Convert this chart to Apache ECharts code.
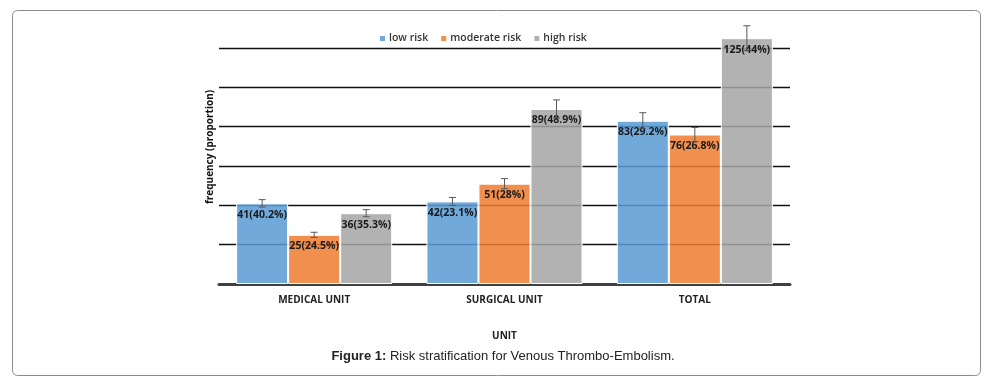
<!DOCTYPE html>
<html><head><meta charset="utf-8">
<script src="https://cdn.jsdelivr.net/npm/echarts@6/dist/echarts.min.js"></script>
<style>html,body{margin:0;padding:0;background:#fff}#c{width:991px;height:383px}</style>
</head><body><div id="c"></div>
<script>
const categories = ['MEDICAL UNIT', 'SURGICAL UNIT', 'TOTAL'];
const seriesNames = ['low risk', 'moderate risk', 'high risk'];
const lowRisk = [41, 42, 83];
const moderateRisk = [25, 51, 76];
const highRisk = [36, 89, 125];
const lowPct = ['40.2%', '23.1%', '29.2%'];
const moderatePct = ['24.5%', '28%', '26.8%'];
const highPct = ['35.3%', '48.9%', '44%'];
const lowErr = [1.9, 2.0, 4.1];
const moderateErr = [1.3, 2.6, 3.6];
const highErr = [1.8, 4.6, 6.3];

const values = [lowRisk, moderateRisk, highRisk];
const pcts = [lowPct, moderatePct, highPct];
const errs = [lowErr, moderateErr, highErr];
const colors = ['rgba(91,155,213,0.86)', 'rgba(237,125,49,0.86)', 'rgba(165,165,165,0.86)'];
const catGap = 0.18;

const chart = echarts.init(document.getElementById('c'));
const series = values.map((vals, si) => ({
  name: seriesNames[si],
  type: 'bar',
  data: vals,
  barGap: '0%',
  barCategoryGap: (catGap * 100) + '%',
  clip: false,
  itemStyle: { color: colors[si], borderColor: '#fff', borderWidth: 1 },
  label: {
    show: true, position: 'insideTop', distance: 6,
    fontFamily: 'Open Sans', fontSize: 10.5, fontWeight: 700, color: '#1a1a1a',
    formatter: p => vals[p.dataIndex] + '(' + pcts[si][p.dataIndex] + ')'
  },
  z: 2
}));

const errData = [];
values.forEach((vals, si) => vals.forEach((v, ci) => errData.push([ci, v, errs[si][ci], si])));
series.push({
  type: 'custom',
  clip: false,
  silent: true,
  z: 5,
  data: errData,
  encode: { x: 0, y: 1 },
  renderItem: function (params, api) {
    const ci = api.value(0), v = api.value(1), e = api.value(2), si = api.value(3);
    const catW = api.size([1, 0])[0];
    const bw = catW * (1 - catGap) / 3;
    const c = api.coord([ci, v]);
    const x = c[0] + (si - 1) * bw;
    const yTop = api.coord([ci, v + e])[1];
    const yBot = api.coord([ci, v - e])[1];
    const cap = 3.5;
    const st = { stroke: '#595959', lineWidth: 1 };
    return { type: 'group', children: [
      { type: 'line', shape: { x1: x, y1: yTop, x2: x, y2: yBot }, style: st },
      { type: 'line', shape: { x1: x - cap, y1: yTop, x2: x + cap, y2: yTop }, style: st },
      { type: 'line', shape: { x1: x - cap, y1: yBot, x2: x + cap, y2: yBot }, style: st }
    ]};
  }
});

chart.setOption({
  animation: false,
  backgroundColor: '#fff',
  grid: { left: 219, right: 201, top: 48, bottom: 99 },
  legend: {
    data: seriesNames, left: 373, top: 28, icon: 'rect', itemWidth: 7, itemHeight: 7, itemGap: 11,
    textStyle: { fontFamily: 'Open Sans', fontSize: 10.5, fontWeight: 600, color: '#333', padding: [0,0,0,-2] }
  },
  xAxis: {
    type: 'category', data: categories,
    axisLine: { lineStyle: { color: '#404040', width: 3 } },
    axisTick: { show: false },
    axisLabel: { fontFamily: 'Open Sans', fontSize: 10, fontWeight: 700, color: '#222', margin: 11 },
    name: 'UNIT', nameLocation: 'middle', nameGap: 47,
    nameTextStyle: { fontFamily: 'Open Sans', fontSize: 10, fontWeight: 700, color: '#222' }
  },
  yAxis: {
    type: 'value', min: 0, max: 120, interval: 20,
    axisLine: { show: false }, axisTick: { show: false }, axisLabel: { show: false },
    splitLine: { lineStyle: { color: '#111', width: 1.3 } }
  },
  graphic: [
    { type: 'rect', shape: { x: 12.5, y: 10.5, width: 968, height: 365, r: 5 },
      style: { fill: 'none', stroke: '#8c8c8c', lineWidth: 1 }, z: -1 },
    { type: 'text', x: 210, y: 147, rotation: Math.PI / 2,
      style: { text: 'frequency (proportion)', fontFamily: 'Open Sans', fontSize: 10, fontWeight: 700,
        fill: '#111', align: 'center', verticalAlign: 'middle' } },
    { type: 'text', x: 503, y: 356,
      style: { text: '{b|Figure 1:} Risk stratification for Venous Thrombo-Embolism.', align: 'center',
        verticalAlign: 'middle', fontFamily: 'Liberation Sans', fontSize: 13, fill: '#222',
        rich: { b: { fontFamily: 'Liberation Sans', fontSize: 13, fontWeight: 'bold', fill: '#222' } } } }
  ],
  series: series
});
</script></body></html>
